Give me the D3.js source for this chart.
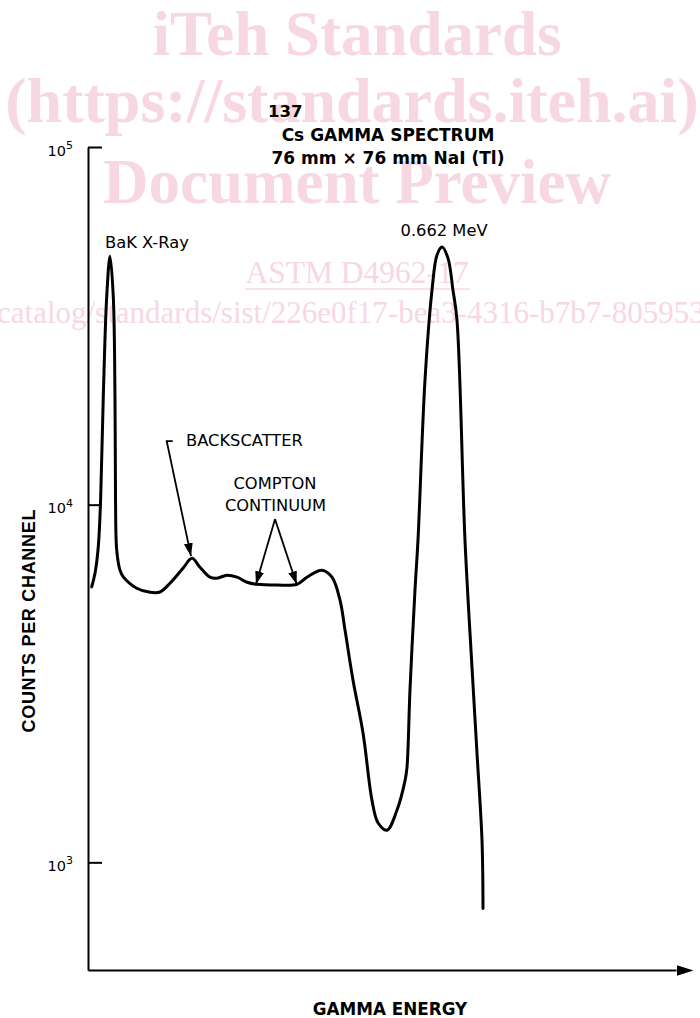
<!DOCTYPE html>
<html>
<head>
<meta charset="utf-8">
<script src="https://cdn.jsdelivr.net/npm/d3@7"></script>
<style>
  html, body { margin: 0; padding: 0; background: #fff; }
  svg { display: block; }
</style>
</head>
<body>
<svg id="chart" width="700" height="1018"></svg>
<script>
// ---- data (energy in keV, counts per channel) ----
const energy = [-3.0, 3.3, 9.5, 14.1, 19.0, 25.5, 31.75, 38.0, 41.2, 42.2, 44.5, 50.7, 57.0, 82.4, 107.7, 126.6,
  145.6, 170.3, 187.4, 202.6, 221.5, 234.8, 253.8, 272.8, 291.8, 310.7, 348.7, 386.7, 405.6, 434.1, 453.1,
  468.3, 477.8, 493.0, 512.0, 529.0, 540.4, 557.5, 576.5, 591.6, 595.4, 601.1, 610.6, 616.3, 629.6, 642.9,
  652.4, 661.9, 673.2, 682.7, 690.3, 705.5, 718.8, 728.3, 737.8, 739.7];
const counts = [5890, 6430, 7620, 10500, 20000, 38100, 49500, 38100, 20000, 10500, 7460, 6560, 6280, 5840, 5690, 5700,
  6030, 6640, 7080, 6680, 6270, 6230, 6350, 6270, 6070, 5990, 5960, 5990, 6270, 6560, 6270,
  5410, 4460, 3230, 2300, 1490, 1290, 1230, 1400, 1690, 1840, 3030, 5770, 7960, 22300, 39800,
  49900, 52500, 48900, 39800, 32800, 7960, 3510, 2020, 1150, 743];
const yTicks = [1e3, 1e4, 1e5];
const titleLines = ["137", "Cs GAMMA SPECTRUM", "76 mm \u00d7 76 mm NaI (Tl)"];
const xLabel = "GAMMA ENERGY";
const yLabel = "COUNTS PER CHANNEL";
const peakLabels = [
  {text: "BaK X-Ray", e: 35, c: 49500},
  {text: "0.662 MeV", e: 662, c: 52500}
];
const backscatterTip = {e: 185.5, c: 7180};
const backscatterStart = {e: 139.4, c: 15050};
const comptonApex = {e: 344.9, c: 9110};
const comptonTips = [{e: 308.8, c: 5990}, {e: 386.0, c: 5990}];
const watermark = [
  {text: "iTeh Standards", size: 63, weight: "bold", y: 55, x: 357},
  {text: "(https://standards.iteh.ai)", size: 64, weight: "bold", y: 122, x: 352},
  {text: "Document Preview", size: 63, weight: "bold", y: 203, x: 357}
];

const svg = d3.select("#chart");
const x = d3.scaleLinear().domain([-10, 1106]).range([88, 676]);
const y = d3.scaleLog().domain([500, 1e5]).range([970, 147]);

// ---- watermark (behind) ----
const wmColor = "#f7d8e2";
const wm = svg.append("g").attr("fill", wmColor).attr("font-family", "'Liberation Serif', 'Times New Roman', serif");
watermark.forEach(w => {
  wm.append("text").attr("x", w.x).attr("y", w.y).attr("text-anchor", "middle")
    .attr("font-size", w.size).attr("font-weight", w.weight).text(w.text);
});
wm.append("text").attr("x", 357).attr("y", 283).attr("text-anchor", "middle")
  .attr("font-size", 31.5).text("ASTM D4962-17");
wm.append("line").attr("x1", 245).attr("x2", 470).attr("y1", 289).attr("y2", 289)
  .attr("stroke", wmColor).attr("stroke-width", 1.5);
wm.append("text").attr("x", -3).attr("y", 323)
  .attr("font-size", 31).text("catalog/standards/sist/226e0f17-bea3-4316-b7b7-8059535e8f5f");

// ---- markers ----
const defs = svg.append("defs");
defs.append("marker").attr("id", "axArrow").attr("markerUnits", "userSpaceOnUse")
  .attr("markerWidth", 18).attr("markerHeight", 12).attr("refX", 0).attr("refY", 5.5).attr("orient", "auto")
  .append("path").attr("d", "M0,0 L17,5.5 L0,11 Z").attr("fill", "#000");
defs.append("marker").attr("id", "annArrow").attr("markerUnits", "userSpaceOnUse")
  .attr("markerWidth", 14).attr("markerHeight", 10).attr("refX", 13).attr("refY", 4.5).attr("orient", "auto")
  .append("path").attr("d", "M0,0 L13,4.5 L0,9 Z").attr("fill", "#000");

// ---- axes ----
const yAxis = d3.axisLeft(y).tickValues(yTicks).tickSizeInner(-14).tickSizeOuter(0).tickPadding(15).tickFormat(() => "");
const gy = svg.append("g").attr("transform", "translate(88,0)").call(yAxis);
gy.attr("font-size", null).attr("font-family", null);
gy.select(".domain").attr("stroke-width", 2);
gy.selectAll(".tick line").attr("stroke-width", 2);
gy.selectAll(".tick text").each(function(d) {
  const t = d3.select(this);
  t.attr("dy", 8).style("font-family", "'DejaVu Sans', Verdana, sans-serif").style("font-size", "14.5px").attr("fill", "#000");
  t.append("tspan").text("10");
  t.append("tspan").attr("dy", -6.5).style("font-size", "11px").text(Math.round(Math.log10(d)));
});

const xAxis = d3.axisBottom(x).tickValues([]).tickSizeOuter(0);
const gx = svg.append("g").attr("transform", "translate(0,970)").call(xAxis);
gx.select(".domain").attr("stroke-width", 2).attr("marker-end", "url(#axArrow)");

// ---- curve ----
const pts = energy.map((e, i) => [e, counts[i]]);
const line = d3.line().x(d => x(d[0])).y(d => y(d[1])).curve(d3.curveCatmullRom.alpha(0.5));
svg.append("path").datum(pts).attr("d", line).attr("fill", "none")
  .attr("stroke", "#000").attr("stroke-width", 3).attr("stroke-linejoin", "round").attr("stroke-linecap", "round");

// ---- titles ----
const bold = "'DejaVu Sans', Verdana, sans-serif";
svg.append("text").attr("x", 268).attr("y", 117).attr("font-family", bold).attr("font-weight", "bold")
  .attr("font-size", 16.5).text(titleLines[0]);
svg.append("text").attr("x", 388).attr("y", 141).attr("text-anchor", "middle").attr("font-family", bold)
  .attr("font-weight", "bold").attr("font-size", 17).text(titleLines[1]);
svg.append("text").attr("x", 388).attr("y", 164).attr("text-anchor", "middle").attr("font-family", bold)
  .attr("font-weight", "bold").attr("font-size", 17).text(titleLines[2]);

svg.append("text").attr("x", 390).attr("y", 1015).attr("text-anchor", "middle").attr("font-family", bold)
  .attr("font-weight", "bold").attr("font-size", 16.8).text(xLabel);
svg.append("text").attr("transform", "translate(35,621) rotate(-90)").attr("text-anchor", "middle")
  .attr("font-family", "'Liberation Sans', Arial, sans-serif").attr("font-weight", "bold")
  .attr("font-size", 18).attr("textLength", 223).attr("lengthAdjust", "spacing").text(yLabel);

// ---- annotations ----
const ann = svg.append("g").attr("font-family", "'DejaVu Sans', Verdana, sans-serif").attr("font-size", 16.3).attr("fill", "#000");
ann.append("text").attr("x", 105).attr("y", 248).text(peakLabels[0].text);
ann.append("text").attr("x", x(peakLabels[1].e) + 2).attr("y", 236).attr("text-anchor", "middle").text(peakLabels[1].text);
ann.append("text").attr("x", 186).attr("y", 446).text("BACKSCATTER");
ann.append("text").attr("x", x(comptonApex.e)).attr("y", 489).attr("text-anchor", "middle").text("COMPTON");
ann.append("text").attr("x", x(comptonApex.e) + 0.5).attr("y", 510.5).attr("text-anchor", "middle").text("CONTINUUM");

const bs0 = [x(backscatterStart.e), y(backscatterStart.c)];
svg.append("path")
  .attr("d", `M${bs0[0] + 6},${bs0[1]} L${bs0[0]},${bs0[1]} L${x(backscatterTip.e)},${y(backscatterTip.c)}`)
  .attr("fill", "none").attr("stroke", "#000").attr("stroke-width", 1.8).attr("marker-end", "url(#annArrow)");
comptonTips.forEach(tp => {
  svg.append("line").attr("x1", x(comptonApex.e)).attr("y1", y(comptonApex.c))
    .attr("x2", x(tp.e)).attr("y2", y(tp.c))
    .attr("stroke", "#000").attr("stroke-width", 1.8).attr("marker-end", "url(#annArrow)");
});
</script>
</body>
</html>
